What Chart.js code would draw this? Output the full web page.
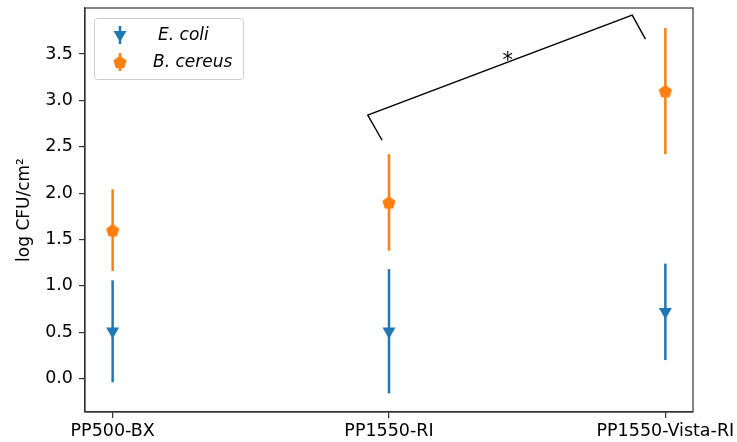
<!DOCTYPE html>
<html>
<head>
<meta charset="utf-8">
<script src="https://cdn.jsdelivr.net/npm/chart.js@4"></script>
<style>
  html, body { margin: 0; padding: 0; background: #fff; }
  #wrap { width: 737px; height: 442px; }
</style>
</head>
<body>
<div id="wrap"><canvas id="chart" width="737" height="442"></canvas></div>
<script>
// surfaces and their colony counts (mean and error, log CFU/cm2)
const categories = ['PP500-BX', 'PP1550-RI', 'PP1550-Vista-RI'];
const ecoliMean = [0.51, 0.51, 0.72];
const ecoliErr = [0.55, 0.67, 0.52];
const cereusMean = [1.60, 1.90, 3.10];
const cereusErr = [0.44, 0.52, 0.68];
const yTicks = [0, 0.5, 1.0, 1.5, 2.0, 2.5, 3.0, 3.5];

// significance bracket between PP1550-RI and PP1550-Vista-RI
const bracketX = [0.975, 0.923, 1.88, 1.928];
const bracketY = [2.57, 2.84, 3.92, 3.66];
const starPos = { x: 1.43, y: 3.47 };

const BLUE = '#1f77b4';
const ORANGE = '#ff7f0e';
const AXIS = '#333333';

Chart.defaults.font.family = "'DejaVu Sans', sans-serif";
Chart.defaults.color = '#000';

// matplotlib-like pentagon marker
function pentagon(color, r) {
    const c = document.createElement('canvas');
    const s = Math.ceil(r * 2 + 2);
    c.width = s; c.height = s;
    const g = c.getContext('2d');
    g.fillStyle = color;
    g.beginPath();
    for (let k = 0; k < 5; k++) {
        const a = -Math.PI / 2 + k * 2 * Math.PI / 5;
        const px = s / 2 + r * Math.cos(a);
        const py = s / 2 + r * Math.sin(a) + r * 0.1;
        k === 0 ? g.moveTo(px, py) : g.lineTo(px, py);
    }
    g.closePath();
    g.fill();
    return c;
}
const pentaMarker = pentagon(ORANGE, 7);

// vertical error bars drawn under the markers
const errorBars = {
    id: 'errorBars',
    beforeDatasetsDraw(chart) {
        const { ctx, scales: { x, y } } = chart;
        ctx.save();
        chart.data.datasets.forEach((ds) => {
            if (!ds.errors) return;
            ctx.strokeStyle = ds.borderColor;
            ctx.lineWidth = 2.5;
            ds.data.forEach((p, i) => {
                const px = x.getPixelForValue(p.x);
                ctx.beginPath();
                ctx.moveTo(px, y.getPixelForValue(p.y - ds.errors[i]));
                ctx.lineTo(px, y.getPixelForValue(p.y + ds.errors[i]));
                ctx.stroke();
            });
        });
        ctx.restore();
    }
};

// box frame, asterisk and legend
const extras = {
    id: 'extras',
    afterDraw(chart) {
        const { ctx, chartArea: a, scales: { x, y } } = chart;
        ctx.save();
        ctx.strokeStyle = AXIS;
        ctx.lineWidth = 1.2;
        ctx.strokeRect(a.left, a.top, a.right - a.left, a.bottom - a.top);

        ctx.fillStyle = '#000';
        ctx.font = "21px 'DejaVu Sans'";
        ctx.textAlign = 'center';
        ctx.textBaseline = 'middle';
        ctx.fillText('*', x.getPixelForValue(starPos.x), y.getPixelForValue(starPos.y) + 5);

        // legend
        const lx = 94, ly = 18, lw = 149, lh = 61;
        ctx.fillStyle = 'rgba(255,255,255,0.8)';
        ctx.strokeStyle = '#cccccc';
        ctx.lineWidth = 1;
        ctx.beginPath();
        ctx.roundRect(lx + 0.5, ly + 0.5, lw, lh, 3);
        ctx.fill();
        ctx.stroke();

        const items = chart.data.datasets.filter((d) => d.errors);
        items.forEach((ds, k) => {
            const cy = 35 + k * 27;
            const mx = 120;
            ctx.strokeStyle = ds.borderColor;
            ctx.lineWidth = 2.5;
            ctx.beginPath();
            ctx.moveTo(mx, cy - 9);
            ctx.lineTo(mx, cy + 9);
            ctx.stroke();
            ctx.fillStyle = ds.borderColor;
            if (ds.pointStyle === 'triangle') {
                ctx.beginPath();
                ctx.moveTo(mx - 6.5, cy - 4);
                ctx.lineTo(mx + 6.5, cy - 4);
                ctx.lineTo(mx, cy + 7);
                ctx.closePath();
                ctx.fill();
            } else {
                ctx.drawImage(ds.pointStyle, mx - ds.pointStyle.width / 2, cy - ds.pointStyle.height / 2);
            }
            ctx.fillStyle = '#000';
            ctx.font = "italic 17px 'DejaVu Sans'";
            ctx.textAlign = 'left';
            ctx.fillText(ds.label, k === 0 ? 158 : 153, cy + 1);
        });
        ctx.restore();
    }
};

const point = (means) => means.map((m, i) => ({ x: i, y: m }));

new Chart(document.getElementById('chart'), {
    type: 'scatter',
    data: {
        datasets: [
            {
                label: 'E. coli',
                data: point(ecoliMean),
                errors: ecoliErr,
                pointStyle: 'triangle',
                rotation: 180,
                radius: 7.5,
                backgroundColor: BLUE,
                borderColor: BLUE,
                borderWidth: 0
            },
            {
                label: 'B. cereus',
                data: point(cereusMean),
                errors: cereusErr,
                pointStyle: pentaMarker,
                radius: 7,
                backgroundColor: ORANGE,
                borderColor: ORANGE
            },
            {
                label: 'bracket',
                data: bracketX.map((bx, i) => ({ x: bx, y: bracketY[i] })),
                showLine: true,
                pointRadius: 0,
                borderColor: '#000',
                borderWidth: 1.4,
                fill: false
            }
        ]
    },
    options: {
        responsive: false,
        animation: false,
        devicePixelRatio: 1,
        layout: { padding: { left: 0, right: 44, top: 8, bottom: 0 } },
        plugins: {
            legend: { display: false },
            tooltip: { enabled: false }
        },
        scales: {
            x: {
                type: 'linear',
                min: -0.1,
                max: 2.1,
                afterBuildTicks: (s) => { s.ticks = categories.map((c, i) => ({ value: i })); },
                afterFit: (s) => {
                    s.height = 30;
                    // keep the plot frame fixed; long labels may overhang
                    s.paddingLeft = 0;
                    s.paddingRight = 0;
                },
                ticks: {
                    callback: (v) => categories[v],
                    autoSkip: false,
                    maxRotation: 0,
                    padding: 3,
                    color: '#000',
                    font: { size: 17.5 }
                },
                grid: { drawOnChartArea: false, tickLength: 6, tickColor: AXIS, lineWidth: 1.2 },
                border: { color: AXIS, width: 1.2 }
            },
            y: {
                min: -0.36,
                max: 3.996,
                afterBuildTicks: (s) => { s.ticks = yTicks.map((v) => ({ value: v })); },
                afterFit: (s) => {
                    s.width = 85;
                    s.paddingTop = 0;
                    s.paddingBottom = 0;
                },
                ticks: {
                    callback: (v) => v.toFixed(1),
                    padding: 6,
                    color: '#000',
                    font: { size: 17.5 }
                },
                title: {
                    display: true,
                    text: 'log CFU/cm²',
                    color: '#000',
                    font: { size: 17 },
                    padding: { top: 14, bottom: 0 }
                },
                grid: { drawOnChartArea: false, tickLength: 6, tickColor: AXIS, lineWidth: 1.2 },
                border: { color: AXIS, width: 1.2 }
            }
        }
    },
    plugins: [errorBars, extras]
});
</script>
</body>
</html>
